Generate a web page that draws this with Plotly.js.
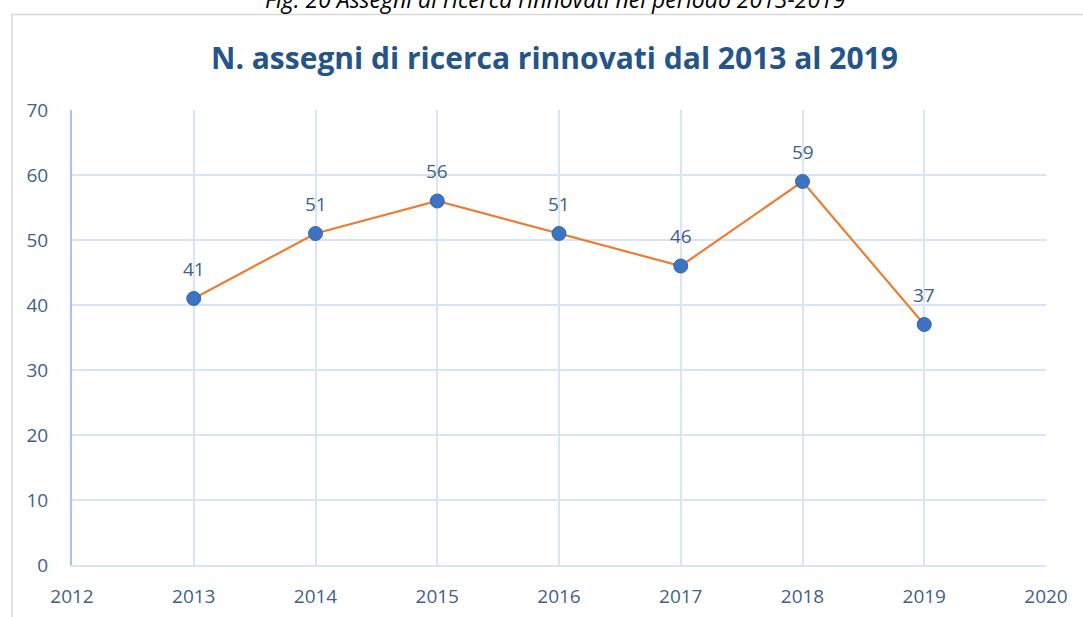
<!DOCTYPE html>
<html>
<head>
<meta charset="utf-8">
<script src="https://cdn.plot.ly/plotly-3.0.1.min.js"></script>
<style>html,body{margin:0;padding:0;background:#fff;}#chart{width:1083px;height:617px;}</style>
</head>
<body>
<div id="chart"></div>
<script>
const years = [2013, 2014, 2015, 2016, 2017, 2018, 2019];
const assegni = [41, 51, 56, 51, 46, 59, 37];
const labels = assegni.map(String);
const chartTitle = "N. assegni di ricerca rinnovati dal 2013 al 2019";
const caption = "Fig. 20 Assegni di ricerca rinnovati nel periodo 2013-2019";

const textColor = "#3f5f8c";
const gridColor = "#d9e5f4";
const fontFam = "'Open Sans', 'Noto Sans', sans-serif";

const trace = {
  x: years, y: assegni,
  type: "scatter", mode: "lines+markers",
  line: {color: "#ed7d31", width: 2.2},
  marker: {color: "#3c73c2", size: 14, line: {color: "#3366b0", width: 1}},
  cliponaxis: false,
  hoverinfo: "skip"
};

const labelAnnotations = years.map((yr, i) => ({
  x: yr, y: assegni[i], xref: "x", yref: "y",
  text: labels[i], showarrow: false, yshift: 30,
  font: {family: fontFam, size: 19, color: textColor}
}));

const layout = {
  width: 1083, height: 617,
  margin: {l: 72, r: 37, t: 110, b: 52},
  paper_bgcolor: "#ffffff", plot_bgcolor: "#ffffff",
  showlegend: false,
  font: {family: fontFam, size: 19, color: textColor},
  xaxis: {
    range: [2012, 2020], dtick: 1, tick0: 2012,
    showgrid: true, gridcolor: gridColor, gridwidth: 2,
    showline: true, linecolor: gridColor, linewidth: 2,
    zeroline: false, ticks: "", ticklabelstandoff: 13,
    tickfont: {family: fontFam, size: 19, color: textColor},
    fixedrange: true
  },
  yaxis: {
    range: [0, 70], dtick: 10,
    showgrid: true, gridcolor: gridColor, gridwidth: 2,
    showline: true, linecolor: "#a9c6ea", linewidth: 2,
    zeroline: false, ticks: "", ticklabelstandoff: 18,
    tickfont: {family: fontFam, size: 19, color: textColor},
    fixedrange: true
  },
  shapes: [{
    type: "rect", xref: "paper", yref: "paper",
    x0: -0.0616, x1: 1.04, y0: -0.2, y1: 1.21,
    line: {color: "#d9d9d9", width: 1.5}, fillcolor: "rgba(0,0,0,0)", layer: "below"
  }],
  annotations: [
    {
      text: "<b>" + chartTitle + "</b>", xref: "paper", yref: "paper",
      x: (554 - 72) / 974, y: (565 - 58) / 455, xanchor: "center", yanchor: "middle",
      showarrow: false, font: {family: fontFam, size: 30, color: "#24548a"}
    },
    {
      text: "<i>" + caption + "</i>", xref: "paper", yref: "paper",
      x: (555 - 72) / 974, y: (565 + 1) / 455, xanchor: "center", yanchor: "middle",
      showarrow: false, font: {family: fontFam, size: 23, color: "#000000"}
    }
  ].concat(labelAnnotations)
};

Plotly.newPlot("chart", [trace], layout, {displayModeBar: false, staticPlot: true});
</script>
</body>
</html>
